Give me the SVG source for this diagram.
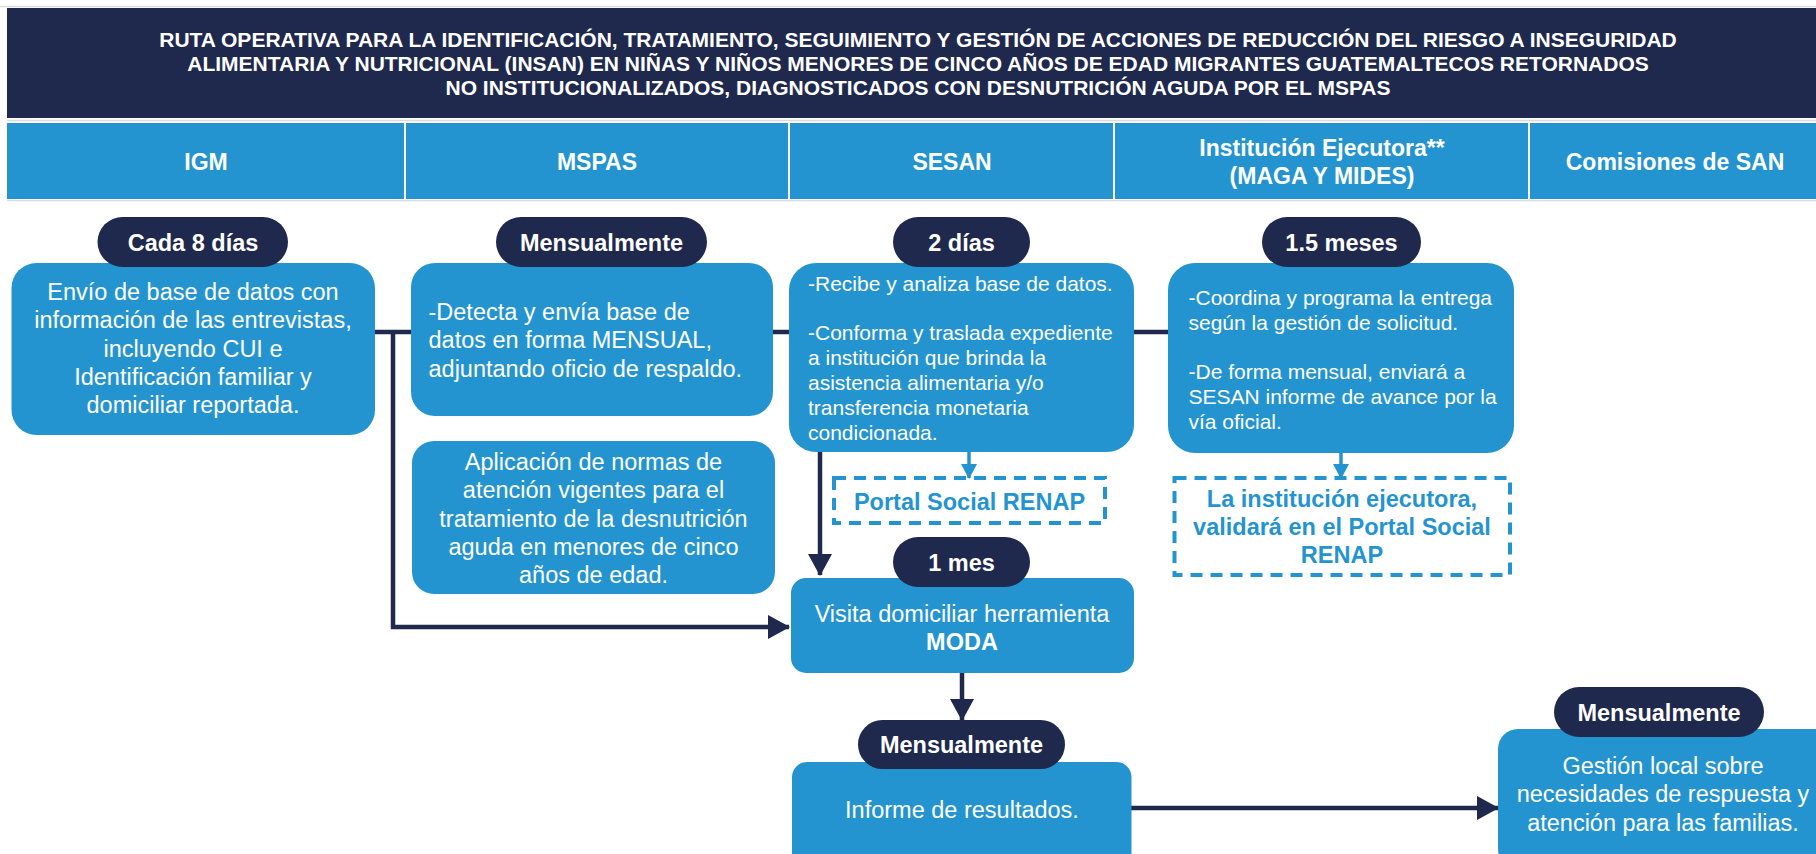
<svg xmlns="http://www.w3.org/2000/svg" width="1816" height="854" viewBox="0 0 1816 854">
<defs>
<style>
text{font-family:"Liberation Sans",Arial,Helvetica,sans-serif;}
.title{font-size:21px;font-weight:bold;fill:#ffffff;text-anchor:middle;}
.hdr{font-size:23px;font-weight:bold;fill:#ffffff;text-anchor:middle;}
.box{fill:#2494d0;}
.pill{fill:#1f284d;}
.pt{font-size:23.5px;font-weight:bold;fill:#ffffff;text-anchor:middle;}
.t{font-size:23.5px;fill:#ffffff;}
.c{text-anchor:middle;}
.s{font-size:21px;fill:#ffffff;}
.dash{fill:none;stroke:#2494d0;stroke-width:4;stroke-dasharray:12 8;}
.bt{font-size:23.5px;font-weight:bold;fill:#2494d0;text-anchor:middle;}
.ln{fill:none;stroke:#1f284d;stroke-width:4.5;}
.lb{fill:none;stroke:#2494d0;stroke-width:3.5;}
.sep{stroke:#dcdcdc;stroke-width:1.5;}
</style>
<marker id="ad" markerUnits="userSpaceOnUse" markerWidth="22" markerHeight="24" refX="21" refY="12" orient="auto"><path d="M0,0 L22,12 L0,24 z" fill="#1f284d"/></marker>
<marker id="ab" markerUnits="userSpaceOnUse" markerWidth="15" markerHeight="16" refX="14" refY="8" orient="auto"><path d="M0,0 L15,8 L0,16 z" fill="#2494d0"/></marker>
</defs>
<rect width="1816" height="854" fill="#ffffff"/>
<g id="header">
<line class="sep" x1="0" y1="6.5" x2="1816" y2="6.5"/>
<rect x="7" y="8" width="1809" height="110" fill="#1f284d"/>
<line class="sep" x1="7" y1="120.5" x2="1816" y2="120.5"/>
<text class="title" x="918" y="47">RUTA OPERATIVA PARA LA IDENTIFICACIÓN, TRATAMIENTO, SEGUIMIENTO Y GESTIÓN DE ACCIONES DE REDUCCIÓN DEL RIESGO A INSEGURIDAD</text>
<text class="title" x="918" y="71">ALIMENTARIA Y NUTRICIONAL (INSAN) EN NIÑAS Y NIÑOS MENORES DE CINCO AÑOS DE EDAD MIGRANTES GUATEMALTECOS RETORNADOS</text>
<text class="title" x="918" y="95">NO INSTITUCIONALIZADOS, DIAGNOSTICADOS CON DESNUTRICIÓN AGUDA POR EL MSPAS</text>
<rect x="7" y="123" width="1809" height="76" fill="#2494d0"/>
<g stroke="#ffffff" stroke-width="2">
<line x1="405" y1="123" x2="405" y2="199"/>
<line x1="789" y1="123" x2="789" y2="199"/>
<line x1="1114" y1="123" x2="1114" y2="199"/>
<line x1="1529" y1="123" x2="1529" y2="199"/>
</g>
<line class="sep" x1="7" y1="200.5" x2="1816" y2="200.5"/>
<text class="hdr" x="206" y="170">IGM</text>
<text class="hdr" x="597" y="170">MSPAS</text>
<text class="hdr" x="952" y="170">SESAN</text>
<text class="hdr" x="1322" y="156">Institución Ejecutora**</text>
<text class="hdr" x="1322" y="184">(MAGA Y MIDES)</text>
<text class="hdr" x="1675" y="170">Comisiones de SAN</text>
</g>
<g id="connectors">
<line class="ln" x1="373" y1="332" x2="413" y2="332"/>
<line class="ln" x1="771" y1="332" x2="791" y2="332"/>
<line class="ln" x1="1132" y1="332" x2="1170" y2="332"/>
<polyline class="ln" points="393,332 393,627 789,627" marker-end="url(#ad)"/>
<line class="ln" x1="820" y1="450" x2="820" y2="575" marker-end="url(#ad)"/>
<line class="lb" x1="969" y1="450" x2="969" y2="478" marker-end="url(#ab)"/>
<line class="lb" x1="1341" y1="451" x2="1341" y2="478" marker-end="url(#ab)"/>
<line class="ln" x1="962" y1="671" x2="962" y2="720" marker-end="url(#ad)"/>
<line class="ln" x1="1130" y1="808" x2="1498" y2="808" marker-end="url(#ad)"/>
</g>
<g id="igm">
<rect class="box" x="11.5" y="263" width="363.5" height="172" rx="25"/>
<text class="t c" x="193" y="300">Envío de base de datos con</text>
<text class="t c" x="193" y="328.3">información de las entrevistas,</text>
<text class="t c" x="193" y="356.6">incluyendo CUI e</text>
<text class="t c" x="193" y="385">Identificación familiar y</text>
<text class="t c" x="193" y="413">domiciliar reportada.</text>
<rect class="pill" x="97.5" y="217" width="190.5" height="50" rx="25"/>
<text class="pt" x="193" y="250.5">Cada 8 días</text>
</g>
<g id="mspas">
<rect class="box" x="411" y="263" width="362" height="153" rx="24"/>
<text class="t" x="428.5" y="320">-Detecta y envía base de</text>
<text class="t" x="428.5" y="348">datos en forma MENSUAL,</text>
<text class="t" x="428.5" y="377">adjuntando oficio de respaldo.</text>
<rect class="pill" x="496" y="217" width="211" height="50" rx="25"/>
<text class="pt" x="601.5" y="250.5">Mensualmente</text>
</g>
<g id="aplicacion">
<rect class="box" x="412" y="441" width="363" height="153" rx="22"/>
<text class="t c" x="593.5" y="470">Aplicación de normas de</text>
<text class="t c" x="593.5" y="498">atención vigentes para el</text>
<text class="t c" x="593.5" y="527">tratamiento de la desnutrición</text>
<text class="t c" x="593.5" y="555">aguda en menores de cinco</text>
<text class="t c" x="593.5" y="583">años de edad.</text>
</g>
<g id="sesan">
<rect class="box" x="789" y="263" width="345" height="189" rx="27"/>
<text class="s" x="808" y="291">-Recibe y analiza base de datos.</text>
<text class="s" x="808" y="340">-Conforma y traslada expediente</text>
<text class="s" x="808" y="365">a institución que brinda la</text>
<text class="s" x="808" y="390">asistencia alimentaria y/o</text>
<text class="s" x="808" y="415">transferencia monetaria</text>
<text class="s" x="808" y="440">condicionada.</text>
<rect class="pill" x="893" y="217" width="137" height="50" rx="25"/>
<text class="pt" x="961.5" y="250.5">2 días</text>
</g>
<g id="portal">
<rect class="dash" x="834" y="478" width="271" height="45"/>
<text class="bt" x="969.5" y="510">Portal Social RENAP</text>
</g>
<g id="institucion">
<rect class="box" x="1168" y="263" width="346" height="190" rx="27"/>
<text class="s" x="1188.5" y="305">-Coordina y programa la entrega</text>
<text class="s" x="1188.5" y="330">según la gestión de solicitud.</text>
<text class="s" x="1188.5" y="379">-De forma mensual, enviará a</text>
<text class="s" x="1188.5" y="404">SESAN informe de avance por la</text>
<text class="s" x="1188.5" y="429">vía oficial.</text>
<rect class="pill" x="1262" y="217" width="159" height="50" rx="25"/>
<text class="pt" x="1341.5" y="250.5">1.5 meses</text>
</g>
<g id="validacion">
<rect class="dash" x="1174.5" y="478" width="335.5" height="97"/>
<text class="bt" x="1342" y="507">La institución ejecutora,</text>
<text class="bt" x="1342" y="535">validará en el Portal Social</text>
<text class="bt" x="1342" y="563">RENAP</text>
</g>
<g id="visita">
<rect class="box" x="791" y="578" width="343" height="95" rx="15"/>
<text class="t c" x="962" y="622">Visita domiciliar herramienta</text>
<text class="t c" x="962" y="650" font-weight="bold">MODA</text>
<rect class="pill" x="893" y="537" width="137" height="50" rx="25"/>
<text class="pt" x="961.5" y="570.5">1 mes</text>
</g>
<g id="informe">
<rect class="box" x="792" y="762" width="339.5" height="110" rx="15"/>
<text class="t c" x="962" y="818">Informe de resultados.</text>
<rect class="pill" x="858" y="720" width="207" height="49" rx="24.5"/>
<text class="pt" x="961.5" y="753">Mensualmente</text>
</g>
<g id="comisiones">
<rect class="box" x="1498" y="729" width="345" height="140" rx="20"/>
<text class="t c" x="1663" y="774">Gestión local sobre</text>
<text class="t c" x="1663" y="802">necesidades de respuesta y</text>
<text class="t c" x="1663" y="830.5">atención para las familias.</text>
<rect class="pill" x="1554" y="687" width="210" height="50" rx="25"/>
<text class="pt" x="1659" y="720.5">Mensualmente</text>
</g>
</svg>
